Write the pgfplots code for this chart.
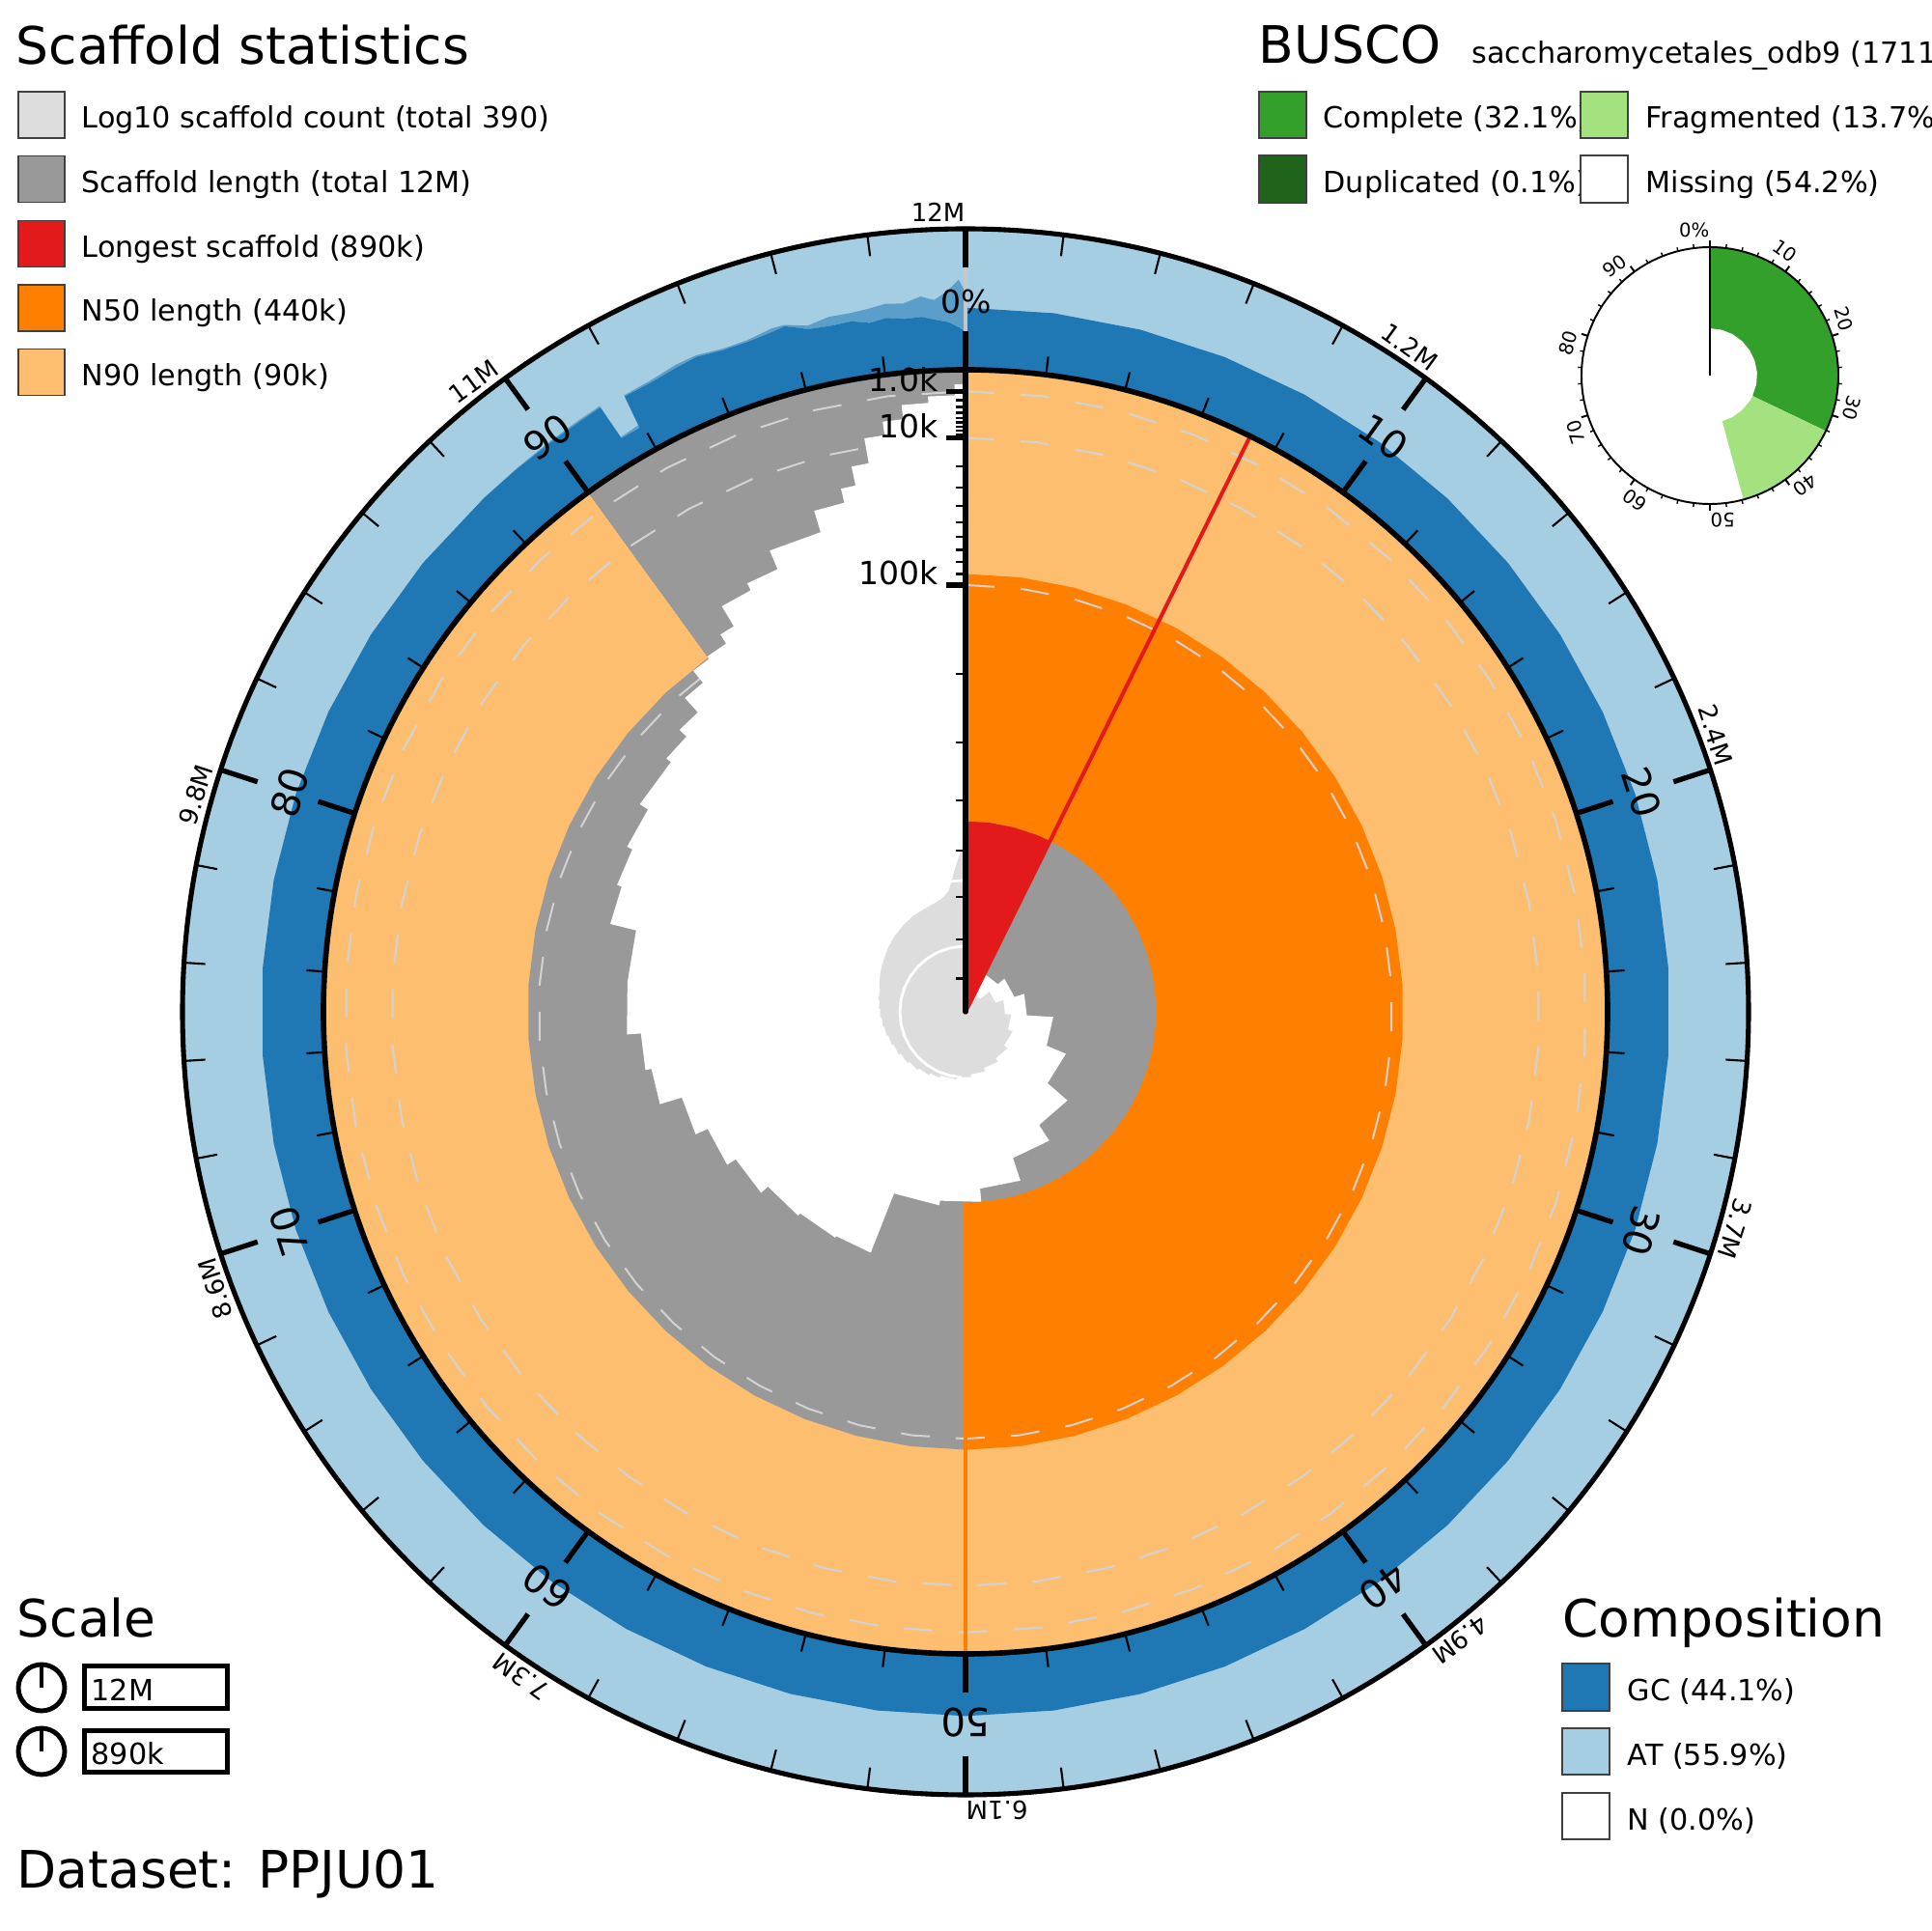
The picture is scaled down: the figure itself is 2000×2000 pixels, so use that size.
\documentclass[border=0pt]{standalone}
\usepackage{fontspec}
\setmainfont{DejaVu Sans}
\usepackage{pgfplots}
\usepackage{pgfplotstable}
\pgfplotsset{compat=1.18}

\definecolor{cAT}{HTML}{A6CEE3}
\definecolor{cGC}{HTML}{1F78B4}
\definecolor{cCount}{HTML}{DDDDDD}
\definecolor{cLen}{HTML}{999999}
\definecolor{cLong}{HTML}{E31A1C}
\definecolor{cN50}{HTML}{FF7F00}
\definecolor{cN90}{HTML}{FDBF6F}
\definecolor{cComp}{HTML}{33A02C}
\definecolor{cDup}{HTML}{20641C}
\definecolor{cFrag}{HTML}{A3E27F}
\definecolor{cGrid}{HTML}{D2D2D2}

\newcommand\Ang{(90-3.6*\thisrow{p})}
\newcommand\RLof[1]{(665*(1-sqrt(\thisrow{#1}/890)))}
\newcommand\RC{(665+1.46*\thisrow{gc})}
\newcommand\RN{(29.532*ln(\thisrow{n}))}

\newcommand\ftitle{\fontsize{15.2}{18}\selectfont}
\newcommand\fleg{\fontsize{8.6}{10}\selectfont}
\newcommand\fax{\fontsize{9.4}{11}\selectfont}
\newcommand\fpct{\fontsize{11.4}{13}\selectfont}
\newcommand\fout{\fontsize{7.4}{9}\selectfont}
\newcommand\fbus{\fontsize{5.6}{7}\selectfont}

% ring: percent positions, lengths (kb) of grid circles, AT (%)
\pgfplotstableread[row sep=\\]{
p La Lb Lc gc\\
0 1 10 100 100\\ 2 1 10 100 100\\ 4 1 10 100 100\\ 6 1 10 100 100\\ 8 1 10 100 100\\ 10 1 10 100 100\\
12 1 10 100 100\\ 14 1 10 100 100\\ 16 1 10 100 100\\ 18 1 10 100 100\\ 20 1 10 100 100\\ 22 1 10 100 100\\
24 1 10 100 100\\ 26 1 10 100 100\\ 28 1 10 100 100\\ 30 1 10 100 100\\ 32 1 10 100 100\\ 34 1 10 100 100\\
36 1 10 100 100\\ 38 1 10 100 100\\ 40 1 10 100 100\\ 42 1 10 100 100\\ 44 1 10 100 100\\ 46 1 10 100 100\\
48 1 10 100 100\\ 50 1 10 100 100\\ 52 1 10 100 100\\ 54 1 10 100 100\\ 56 1 10 100 100\\ 58 1 10 100 100\\
60 1 10 100 100\\ 62 1 10 100 100\\ 64 1 10 100 100\\ 66 1 10 100 100\\ 68 1 10 100 100\\ 70 1 10 100 100\\
72 1 10 100 100\\ 74 1 10 100 100\\ 76 1 10 100 100\\ 78 1 10 100 100\\ 80 1 10 100 100\\ 82 1 10 100 100\\
84 1 10 100 100\\ 86 1 10 100 100\\ 88 1 10 100 100\\ 90 1 10 100 100\\ 92 1 10 100 100\\ 94 1 10 100 100\\
96 1 10 100 100\\ 98 1 10 100 100\\ 100 1 10 100 100\\
}\tRing

% GC content (%) by percentile
\pgfplotstableread[row sep=\\]{
p gc\\
0 44.1\\ 2 44.1\\ 4 44.1\\ 6 44.1\\ 8 44.1\\ 10 44.1\\ 12 44.1\\ 14 44.1\\ 16 44.1\\ 18 44.1\\ 20 44.1\\
22 44.1\\ 24 44.1\\ 26 44.1\\ 28 44.1\\ 30 44.1\\ 32 44.1\\ 34 44.1\\ 36 44.1\\ 38 44.1\\ 40 44.1\\
42 44.1\\ 44 44.1\\ 46 44.1\\ 48 44.1\\ 50 44.1\\ 52 44.1\\ 54 44.1\\ 56 44.1\\ 58 44.1\\ 60 44.1\\
62 44.1\\ 64 44.1\\ 66 44.1\\ 68 44.1\\ 70 44.1\\ 72 44.1\\ 74 44.1\\ 76 44.1\\ 78 44.1\\ 80 44.1\\
82 44.1\\ 84 44.1\\ 86 44.1\\ 88 44.1\\ 89 44.1\\ 90 44.3\\ 90.8 44.8\\ 91.35 45.5\\ 91.4 19\\ 91.9 19\\
91.95 43.6\\ 92.6 43.6\\ 93.3 45.5\\ 93.8 46.8\\ 94.4 44.5\\ 95 44.3\\ 95.6 46\\ 95.9 47.5\\ 96.4 41.5\\
96.9 40.5\\ 97.4 41\\ 97.8 38\\ 98.2 40\\ 98.6 38\\ 99 38.5\\ 99.3 36\\ 99.6 34\\ 99.85 30\\ 100 27\\
}\tGC

% GC spread band (upper then lower edge)
\pgfplotstableread[row sep=\\]{
p gc\\
88 44.1\\ 89 44.6\\ 90 45.2\\ 90.8 46\\ 91.35 46.5\\ 91.4 20\\ 91.9 21\\ 91.95 44.5\\ 92.6 45\\ 93.3 47.5\\
93.8 48\\ 94.4 45.5\\ 95 45.5\\ 95.6 48.5\\ 95.9 48.5\\ 96.4 44\\ 96.9 47\\ 97.4 47\\ 97.8 48\\ 98.2 50\\
98.6 49\\ 99 53\\ 99.3 50\\ 99.6 56\\ 99.85 64\\ 100 55\\
100 27\\ 99.85 30\\ 99.6 34\\ 99.3 36\\ 99 38.5\\ 98.6 38\\ 98.2 40\\ 97.8 38\\ 97.4 41\\ 96.9 40.5\\
96.4 41.5\\ 95.9 47.5\\ 95.6 46\\ 95 44.3\\ 94.4 44.5\\ 93.8 46.8\\ 93.3 45.5\\ 92.6 43.6\\ 91.95 43.6\\
91.9 19\\ 91.4 19\\ 91.35 45.5\\ 90.8 44.8\\ 90 44.3\\ 89 44.1\\ 88 44.1\\
}\tBand

% N90 sector (0-90 %)
\pgfplotstableread[row sep=\\]{
p L\\
0 890\\ 0 0\\ 2 0\\ 4 0\\ 6 0\\ 8 0\\ 10 0\\ 12 0\\ 14 0\\ 16 0\\ 18 0\\ 20 0\\ 22 0\\ 24 0\\ 26 0\\
28 0\\ 30 0\\ 32 0\\ 34 0\\ 36 0\\ 38 0\\ 40 0\\ 42 0\\ 44 0\\ 46 0\\ 48 0\\ 50 0\\ 52 0\\ 54 0\\ 56 0\\
58 0\\ 60 0\\ 62 0\\ 64 0\\ 66 0\\ 68 0\\ 70 0\\ 72 0\\ 74 0\\ 76 0\\ 78 0\\ 80 0\\ 82 0\\ 84 0\\ 86 0\\
88 0\\ 90 0\\
}\tPale

\pgfplotstableread[row sep=\\]{
p L\\
90 890\\ 90 0\\ 92 0\\ 94 0\\ 96 0\\ 98 0\\ 100 0\\
}\tGrayOut

% N50 sector, inner edge at N90 length
\pgfplotstableread[row sep=\\]{
p L\\
0 890\\ 0 90\\ 2 90\\ 4 90\\ 6 90\\ 8 90\\ 10 90\\ 12 90\\ 14 90\\ 16 90\\ 18 90\\ 20 90\\ 22 90\\
24 90\\ 26 90\\ 28 90\\ 30 90\\ 32 90\\ 34 90\\ 36 90\\ 38 90\\ 40 90\\ 42 90\\ 44 90\\ 46 90\\ 48 90\\ 50 90\\
}\tOrange

\pgfplotstableread[row sep=\\]{
p L\\
0 890\\ 0 440\\ 2 440\\ 4 440\\ 6 440\\ 8 440\\ 10 440\\ 12 440\\ 14 440\\ 16 440\\ 18 440\\ 20 440\\
22 440\\ 24 440\\ 26 440\\ 28 440\\ 30 440\\ 32 440\\ 34 440\\ 36 440\\ 38 440\\ 40 440\\ 42 440\\
44 440\\ 46 440\\ 48 440\\ 50 440\\
}\tGrayA

\pgfplotstableread[row sep=\\]{
p L\\
50 890\\ 50 90\\ 52 90\\ 54 90\\ 56 90\\ 58 90\\ 60 90\\ 62 90\\ 64 90\\ 66 90\\ 68 90\\ 70 90\\
72 90\\ 74 90\\ 76 90\\ 78 90\\ 80 90\\ 82 90\\ 84 90\\ 86 90\\ 88 90\\ 90 90\\
}\tGrayB

\pgfplotstableread[row sep=\\]{
p L\\
0 890\\ 0 440\\ 2 440\\ 4 440\\ 6 440\\ 7.31 440\\
}\tRed

% scaffold length (kb) at each percentile of the assembly
\pgfplotstableread[row sep=\\]{
p L\\
0 890\\ 7.31 890\\ 7.31 776\\ 13.75 776\\ 13.75 754\\ 20.28 754\\ 20.28 728\\ 25.92 728\\
25.92 663\\ 31.3 663\\ 31.3 614\\ 36.39 614\\ 36.39 555\\ 40.83 555\\ 40.83 515\\ 45 515\\
45 466\\ 48.69 466\\ 48.69 440\\ 52.14 440\\ 52.14 431\\ 55.97 431\\ 55.97 317\\ 58.33 317\\
58.33 314\\ 60.94 314\\ 60.94 309\\ 63.47 309\\ 63.47 294\\ 65.92 294\\ 65.92 278\\ 68.22 278\\
68.22 258\\ 70.33 258\\ 70.33 225\\ 72.14 225\\ 72.14 216.5\\ 73.94 216.5\\ 73.94 197.8\\
76.4 197.8\\ 78.86 197.8\\ 78.86 164.6\\ 80.56 164.6\\ 80.56 158.9\\ 82.22 158.9\\ 82.22 152.2\\
84.03 152.2\\ 84.03 141.3\\ 86.19 141.3\\ 86.19 135\\ 87.39 135\\ 87.39 124.8\\ 88.39 124.8\\
88.39 105.5\\ 89.28 105.5\\ 89.28 91.3\\ 90 91.3\\ 90 88.8\\ 90.83 88.8\\ 90.83 79.7\\ 91.39 79.7\\
91.39 61.6\\ 92.5 61.6\\ 92.5 56.1\\ 93.61 56.1\\ 93.61 42.9\\ 95.33 42.9\\ 95.33 30.4\\ 96.28 30.4\\
96.28 23.5\\ 96.72 23.5\\ 96.72 15.6\\ 97.22 15.6\\ 97.22 7.7\\ 97.78 7.7\\ 97.78 4.6\\ 98.33 4.6\\
98.33 2.2\\ 99.03 2.2\\ 99.03 1.4\\ 99.72 1.4\\ 99.72 0.45\\ 100 0.45\\
}\tWhite

% cumulative scaffold count by percentile
\pgfplotstableread[row sep=\\]{
p n\\
0 1\\ 7.31 1\\ 7.31 2\\ 13.75 2\\ 13.75 3\\ 20.28 3\\ 20.28 4\\ 25.92 4\\ 25.92 5\\ 31.3 5\\
31.3 6\\ 36.39 6\\ 36.39 7\\ 40.83 7\\ 40.83 8\\ 45 8\\ 45 9\\ 48.69 9\\ 48.69 10\\ 52.14 10\\
52.14 11\\ 55.97 11\\ 55.97 12\\ 58.33 12\\ 58.33 13\\ 60.94 13\\ 60.94 14\\ 63.47 14\\ 63.47 15\\
65.92 15\\ 65.92 16\\ 68.22 16\\ 68.22 17\\ 70.33 17\\ 70.33 18\\ 72.14 18\\ 72.14 19\\ 73.94 19\\
73.94 20\\ 75.6 20\\ 75.6 21\\ 77.2 21\\ 77.2 22\\ 78.86 22\\ 80 24\\ 82 27\\ 84 30\\ 86 34\\
88 38\\ 90 42\\ 92 46\\ 94 49\\ 95 51\\ 96 54\\ 97 60\\ 97.8 72\\ 98.3 100\\ 98.8 150\\ 99.2 210\\
99.5 270\\ 99.8 340\\ 100 390\\
}\tCount

\pgfplotstableread[row sep=\\]{
p n\\
51 10\\ 54 10\\ 57 10\\ 60 10\\ 63 10\\ 66 10\\ 69 10\\ 72 10\\ 75 10\\ 78 10\\ 81 10\\ 84 10\\
87 10\\ 90 10\\ 93 10\\ 96 10\\ 99 10\\ 100 10\\
}\tGridA

\pgfplotstableread[row sep=\\]{
p n\\
97 100\\ 98 100\\ 99 100\\ 100 100\\
}\tGridB

% BUSCO sectors (percent, radius)
\pgfplotstableread[row sep=\\]{
p r\\
0 133\\ 2 133\\ 4 133\\ 6 133\\ 8 133\\ 10 133\\ 12 133\\ 14 133\\ 16 133\\ 18 133\\ 20 133\\
22 133\\ 24 133\\ 26 133\\ 28 133\\ 30 133\\ 32 133\\ 32.1 133\\ 32.1 49\\ 28 49\\ 24 49\\ 20 49\\
16 49\\ 12 49\\ 8 49\\ 4 49\\ 0 49\\
}\tBComp

\pgfplotstableread[row sep=\\]{
p r\\
32.1 133\\ 34 133\\ 36 133\\ 38 133\\ 40 133\\ 42 133\\ 44 133\\ 45.8 133\\ 45.8 49\\ 42 49\\
38 49\\ 34 49\\ 32.1 49\\
}\tBFrag

\pgfplotstableread[row sep=\\]{
p r\\
0 133\\ 0.1 133\\ 0.1 49\\ 0 49\\
}\tBDup

\begin{document}
\begin{tikzpicture}[x=0.1mm,y=0.1mm]
\useasboundingbox (0,0) rectangle (2000,2000);
\clip (0,0) rectangle (2000,2000);
\begin{axis}[at={(0,0)}, anchor=south west, x=0.1mm, y=0.1mm,
  xmin=-1000, xmax=1000, ymin=-952, ymax=1048,
  hide axis, scale only axis, clip=false]

% composition ring
\addplot[fill=cAT, draw=none] table[x expr={\RC*cos(\Ang)}, y expr={\RC*sin(\Ang)}] {\tRing};
\addplot[fill=cGC, draw=none] table[x expr={\RC*cos(\Ang)}, y expr={\RC*sin(\Ang)}] {\tGC};
\addplot[fill=cGC, fill opacity=0.55, draw=none] table[x expr={\RC*cos(\Ang)}, y expr={\RC*sin(\Ang)}] {\tBand};

% scaffold statistics
\addplot[fill=cN90, draw=none] table[x expr={\RLof{L}*cos(\Ang)}, y expr={\RLof{L}*sin(\Ang)}] {\tPale};
\addplot[fill=cLen, draw=none] table[x expr={\RLof{L}*cos(\Ang)}, y expr={\RLof{L}*sin(\Ang)}] {\tGrayOut};
\addplot[fill=cN50, draw=none] table[x expr={\RLof{L}*cos(\Ang)}, y expr={\RLof{L}*sin(\Ang)}] {\tOrange};
\addplot[fill=cLen, draw=none] table[x expr={\RLof{L}*cos(\Ang)}, y expr={\RLof{L}*sin(\Ang)}] {\tGrayA};
\addplot[fill=cLen, draw=none] table[x expr={\RLof{L}*cos(\Ang)}, y expr={\RLof{L}*sin(\Ang)}] {\tGrayB};
\addplot[fill=cLong, draw=none] table[x expr={\RLof{L}*cos(\Ang)}, y expr={\RLof{L}*sin(\Ang)}] {\tRed};

% grid circles at 1k, 10k, 100k
\addplot[cGrid, line width=0.57pt, dash pattern=on 3mm off 2.7mm] table[x expr={\RLof{La}*cos(\Ang)}, y expr={\RLof{La}*sin(\Ang)}] {\tRing};
\addplot[cGrid, line width=0.57pt, dash pattern=on 3mm off 2.7mm] table[x expr={\RLof{Lb}*cos(\Ang)}, y expr={\RLof{Lb}*sin(\Ang)}] {\tRing};
\addplot[cGrid, line width=0.57pt, dash pattern=on 3mm off 2.7mm] table[x expr={\RLof{Lc}*cos(\Ang)}, y expr={\RLof{Lc}*sin(\Ang)}] {\tRing};

% scaffold length profile (white inside)
\addplot[fill=white, draw=none] table[x expr={\RLof{L}*cos(\Ang)}, y expr={\RLof{L}*sin(\Ang)}] {\tWhite};

% log10 scaffold count
\addplot[fill=cCount, draw=none] table[x expr={\RN*cos(\Ang)}, y expr={\RN*sin(\Ang)}] {\tCount};
\addplot[white, line width=0.8pt] table[x expr={\RN*cos(\Ang)}, y expr={\RN*sin(\Ang)}] {\tGridA};
\addplot[white, line width=0.8pt] table[x expr={\RN*cos(\Ang)}, y expr={\RN*sin(\Ang)}] {\tGridB};

% longest scaffold and N50 edges
\addplot[cLong, line width=1.15pt] table[row sep=\\, x expr={\RLof{L}*cos(\Ang)}, y expr={\RLof{L}*sin(\Ang)}] {p L\\ 7.31 890\\ 7.31 0\\};
\addplot[cN50, line width=1.15pt] table[row sep=\\, x expr={\RLof{L}*cos(\Ang)}, y expr={\RLof{L}*sin(\Ang)}] {p L\\ 50 440\\ 50 0\\};

% BUSCO
\addplot[fill=cComp, draw=none] table[x expr={771+\thisrow{r}*cos(\Ang)}, y expr={659+\thisrow{r}*sin(\Ang)}] {\tBComp};
\addplot[fill=cFrag, draw=none] table[x expr={771+\thisrow{r}*cos(\Ang)}, y expr={659+\thisrow{r}*sin(\Ang)}] {\tBFrag};
\addplot[fill=cDup, draw=none] table[x expr={771+\thisrow{r}*cos(\Ang)}, y expr={659+\thisrow{r}*sin(\Ang)}] {\tBDup};
\end{axis}

\begin{scope}[shift={(1000,952)}]
% composition 0 line
\draw[black!22, line width=1.2pt] (0,705) -- (0,771);
% circles
\draw[line width=1.6pt] (0,0) circle[radius=665];
\draw[line width=1.45pt] (0,0) circle[radius=811];
% percent ticks
\foreach \q in {0,2,...,98} \draw[line width=0.6pt] ({90-3.6*\q}:665) -- ({90-3.6*\q}:684);
\foreach \q in {0,10,...,90} \draw[line width=1.5pt] ({90-3.6*\q}:665) -- ({90-3.6*\q}:705);
\foreach \q in {0,2,...,98} \draw[line width=0.6pt] ({90-3.6*\q}:789) -- ({90-3.6*\q}:811);
\foreach \q in {0,10,...,90} \draw[line width=1.5pt] ({90-3.6*\q}:771) -- ({90-3.6*\q}:811);
% percent labels
\foreach \q in {10,20,...,90} \node[font=\fpct, inner sep=0, rotate={-3.6*\q}] at ({90-3.6*\q}:736) {\q};
\node[font=\fax, inner sep=0] at (1,736) {0\%};
% length labels
\foreach \q/\lab in {0/12M,10/1.2M,20/2.4M,30/3.7M,40/4.9M,50/6.1M,60/7.3M,70/8.6M,80/9.8M,90/11M}
  \node[font=\fout, inner sep=0, anchor=base east, rotate={-3.6*\q}] at ({90-3.6*\q}:818) {\lab};
% radial axis
\draw[line width=1.5pt, line cap=round] (0,0) -- (0,665);
\foreach \L in {2,3,4,5,6,7,8,9,20,30,40,50,60,70,80,90,200,300,400,500,600,700,800}
  \draw[line width=0.6pt] (-10,{665*(1-sqrt(\L/890))}) -- (0,{665*(1-sqrt(\L/890))});
\foreach \L/\lab in {1/1.0k,10/10k,100/100k} {
  \draw[line width=1.5pt] (-20,{665*(1-sqrt(\L/890))}) -- (0,{665*(1-sqrt(\L/890))});
  \node[font=\fax, inner sep=0, anchor=base east] at (-28,{665*(1-sqrt(\L/890))}) {\lab};
}

% BUSCO inset frame
\begin{scope}[shift={(771,659)}]
\draw[line width=0.55pt] (0,0) circle[radius=133];
\draw[line width=0.55pt] (0,0) -- (0,133);
\foreach \q in {0,2,...,98} \draw[line width=0.4pt] ({90-3.6*\q}:133) -- ({90-3.6*\q}:137);
\foreach \q in {0,10,...,90} \draw[line width=0.55pt] ({90-3.6*\q}:133) -- ({90-3.6*\q}:140);
\foreach \q/\lab in {0/0\%,10/10,20/20,30/30,40/40,50/50,60/60,70/70,80/80,90/90}
  \node[font=\fbus, inner sep=0, anchor=base east, rotate={-3.6*\q}] at ({90-3.6*\q}:143) {\lab};
\end{scope}

% Scaffold statistics legend
\node[font=\ftitle, inner sep=0, anchor=base west] at (-984,981) {Scaffold statistics};
\filldraw[fill=cCount, draw=black!75, line width=0.45pt] (-981,953) rectangle (-933,905);
\filldraw[fill=cLen, draw=black!75, line width=0.45pt] (-981,886.3) rectangle (-933,838.3);
\filldraw[fill=cLong, draw=black!75, line width=0.45pt] (-981,819.7) rectangle (-933,771.7);
\filldraw[fill=cN50, draw=black!75, line width=0.45pt] (-981,753) rectangle (-933,705);
\filldraw[fill=cN90, draw=black!75, line width=0.45pt] (-981,686.3) rectangle (-933,638.3);
\node[font=\fleg, inner sep=0, anchor=base west] at (-916,915) {Log10 scaffold count (total 390)};
\node[font=\fleg, inner sep=0, anchor=base west] at (-916,848.3) {Scaffold length (total 12M)};
\node[font=\fleg, inner sep=0, anchor=base west] at (-916,781.7) {Longest scaffold (890k)};
\node[font=\fleg, inner sep=0, anchor=base west] at (-916,715) {N50 length (440k)};
\node[font=\fleg, inner sep=0, anchor=base west] at (-916,648.3) {N90 length (90k)};

% BUSCO legend
\node[font=\ftitle, inner sep=0, anchor=base west] at (303,982) {BUSCO};
\node[font=\fleg, inner sep=0, anchor=base west] at (524,982) {saccharomycetales\_odb9 (1711)};
\node[font=\fleg, inner sep=0, anchor=base west] at (370,915) {Complete (32.1\%)};
\node[font=\fleg, inner sep=0, anchor=base west] at (370,848.3) {Duplicated (0.1\%)};
\node[font=\fleg, inner sep=0, anchor=base west] at (704,915) {Fragmented (13.7\%)};
\node[font=\fleg, inner sep=0, anchor=base west] at (704,848.3) {Missing (54.2\%)};
\filldraw[fill=cComp, draw=black!75, line width=0.45pt] (304,953) rectangle (353,905);
\filldraw[fill=cDup, draw=black!75, line width=0.45pt] (304,887) rectangle (353,838);
\filldraw[fill=cFrag, draw=black!75, line width=0.45pt] (637,953) rectangle (686,905);
\filldraw[fill=white, draw=black!75, line width=0.45pt] (637,887) rectangle (686,838);

% Composition legend
\node[font=\ftitle, inner sep=0, anchor=base west] at (618,-648) {Composition};
\filldraw[fill=cGC, draw=black!75, line width=0.45pt] (618,-675) rectangle (667,-724);
\filldraw[fill=cAT, draw=black!75, line width=0.45pt] (618,-742) rectangle (667,-790);
\filldraw[fill=white, draw=black!75, line width=0.45pt] (618,-809) rectangle (667,-857);
\node[font=\fleg, inner sep=0, anchor=base west] at (685,-714) {GC (44.1\%)};
\node[font=\fleg, inner sep=0, anchor=base west] at (685,-781) {AT (55.9\%)};
\node[font=\fleg, inner sep=0, anchor=base west] at (685,-847) {N (0.0\%)};

% Scale legend
\node[font=\ftitle, inner sep=0, anchor=base west] at (-983,-648) {Scale};
\draw[line width=1.4pt] (-957,-700) circle[radius=24];
\draw[line width=1.4pt] (-957,-700) -- (-957,-676);
\draw[line width=1.4pt] (-957,-766) circle[radius=24];
\draw[line width=1.4pt] (-957,-766) -- (-957,-742);
\draw[line width=1.4pt] (-912.5,-677.5) rectangle (-764.5,-721.5);
\draw[line width=1.4pt] (-912.5,-744.5) rectangle (-764.5,-787.5);
\node[font=\fleg, inner sep=0, anchor=base west] at (-906,-714) {12M};
\node[font=\fleg, inner sep=0, anchor=base west] at (-906,-780) {890k};

\node[font=\ftitle, inner sep=0, anchor=base west] at (-983,-907) {Dataset: PPJU01};
\end{scope}
\end{tikzpicture}
\end{document}
